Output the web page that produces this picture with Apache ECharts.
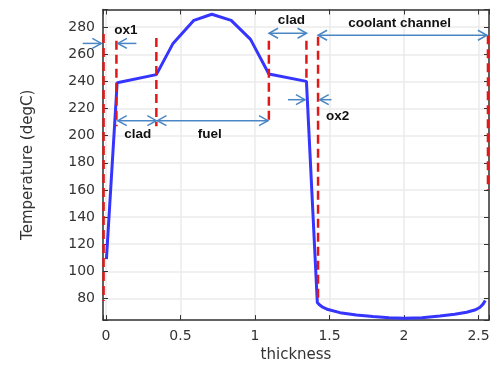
<!DOCTYPE html>
<html><head><meta charset="utf-8">
<script src="https://cdn.jsdelivr.net/npm/echarts@6/dist/echarts.min.js"></script>
<style>html,body{margin:0;padding:0;background:#fff}#c{width:500px;height:368px}</style>
</head><body><div id="c"></div>
<script>
// Temperature profile across the fuel element
const thickness   = [0.003, 0.075, 0.338, 0.45, 0.59, 0.71, 0.84, 0.97, 1.093, 1.345, 1.418, 1.43, 1.45, 1.49, 1.57, 1.68, 1.79, 1.9, 2.0, 2.12, 2.24, 2.34, 2.42, 2.48, 2.51, 2.53, 2.545];
const temperature = [109,   239,   245,   268,  285,  289.5, 285, 271,  245.5, 240,   77,    75.5, 73.8, 71.8, 69.5, 67.8, 66.6, 65.8, 65.4, 65.8, 67,   68.3, 69.8, 71.6, 73.5, 75.8, 78.5];

const xTicks = [0, 0.5, 1, 1.5, 2, 2.5];
const yTicks = [80, 100, 120, 140, 160, 180, 200, 220, 240, 260, 280];

// Region boundaries (red dashed lines)
const boundaryX      = [-0.016, 0.07, 0.338, 1.093, 1.345, 1.423, 2.563];
const boundaryTop    = [275, 270, 272, 270, 270, 273, 274];
const boundaryBottom = [78, 207, 207, 209, 240, 78, 160];

// Annotation arrows: from, to, level, double-headed
const arrowFrom   = [-0.156, 0.204, 0.079, 0.345, 1.094, 1.423, 1.221, 1.513];
const arrowTo     = [-0.031, 0.080, 0.338, 1.087, 1.346, 2.556, 1.335, 1.434];
const arrowY      = [268, 268, 211, 211, 275.5, 274, 226.5, 226.5];
const arrowDouble = [0, 0, 1, 1, 1, 1, 0, 0];

// Annotation labels
const labelText = ['ox1', 'clad', 'fuel', 'clad', 'coolant channel', 'ox2'];
const labelX    = [0.133, 0.213, 0.697, 1.244, 1.97, 1.555];
const labelY    = [277.8, 201, 201, 285, 283, 214];

const chart = echarts.init(document.getElementById('c'), null, {renderer: 'canvas'});
const axisColor = '#333';
const fontFam = '"DejaVu Sans", sans-serif';
const has = (arr, v) => arr.some(t => Math.abs(t - v) < 1e-6);

const xBase = {type: 'value', min: -0.02, max: 2.57, minInterval: 0.5, maxInterval: 0.5,
  axisLine: {show: true, onZero: false, lineStyle: {color: axisColor, width: 1.5}},
  axisTick: {show: true, inside: true, length: 5, lineStyle: {color: axisColor}}};
const yBase = {type: 'value', min: 64, max: 293, minInterval: 20, maxInterval: 20,
  axisLine: {show: true, onZero: false, lineStyle: {color: axisColor, width: 1.5}},
  axisTick: {show: true, inside: true, length: 5, lineStyle: {color: axisColor}}};

const series = [{
  type: 'line', name: 'T', data: thickness.map((x, i) => [x, temperature[i]]),
  showSymbol: false, symbol: 'none', lineStyle: {color: '#3535ff', width: 3}, z: 3,
  xAxisIndex: 0, yAxisIndex: 0
}];
boundaryX.forEach((x, i) => {
  series.push({type: 'line', data: [[x, boundaryTop[i]], [x, boundaryBottom[i]]],
    showSymbol: false, symbol: 'none', z: 4,
    lineStyle: {color: '#e01818', width: 2.5, type: [9, 5]}, xAxisIndex: 0, yAxisIndex: 0});
});
const arrowColor = '#4a86c4';
series.push({
  type: 'custom', clip: false, z: 5, xAxisIndex: 0, yAxisIndex: 0,
  data: arrowFrom.map((v, i) => [v, arrowTo[i], arrowY[i], arrowDouble[i]]),
  encode: {x: [0, 1], y: 2},
  renderItem(params, api) {
    const p1 = api.coord([api.value(0), api.value(2)]);
    const p2 = api.coord([api.value(1), api.value(2)]);
    const dir = Math.sign(p2[0] - p1[0]) || 1;
    const st = {stroke: arrowColor, lineWidth: 1.5, fill: null};
    const head = (tip, d) => ({type: 'polyline', shape: {points: [[tip[0] - d * 9, tip[1] - 5], [tip[0], tip[1]], [tip[0] - d * 9, tip[1] + 5]]}, style: st});
    const ch = [{type: 'line', shape: {x1: p1[0], y1: p1[1], x2: p2[0], y2: p2[1]}, style: st}, head(p2, dir)];
    if (api.value(3)) ch.push(head(p1, -dir));
    return {type: 'group', children: ch};
  }
});
series.push({
  type: 'custom', clip: false, z: 6, xAxisIndex: 0, yAxisIndex: 0,
  data: labelX.map((x, i) => [x, labelY[i], i]),
  encode: {x: 0, y: 1},
  renderItem(params, api) {
    const p = api.coord([api.value(0), api.value(1)]);
    return {type: 'text', x: p[0], y: p[1], style: {text: labelText[api.value(2)], fill: '#111',
      font: 'bold 13.5px "Liberation Sans", Arial, sans-serif', align: 'center', verticalAlign: 'middle'}};
  }
});

chart.setOption({
  animation: false,
  backgroundColor: '#fff',
  grid: {left: 103, right: 11, top: 9.5, bottom: 46, containLabel: false},
  xAxis: [
    Object.assign({}, xBase, {position: 'bottom', name: 'thickness', nameLocation: 'middle', nameGap: 27,
      nameTextStyle: {fontSize: 15, color: '#333', fontFamily: fontFam},
      axisLabel: {show: true, margin: 9, fontSize: 14, color: '#333', fontFamily: fontFam,
        formatter: v => has(xTicks, v) ? String(v) : ''},
      splitLine: {show: true, lineStyle: {color: '#ebebeb', width: 1.5}}}),
    Object.assign({}, xBase, {position: 'top', axisLabel: {show: false}, splitLine: {show: false}})
  ],
  yAxis: [
    Object.assign({}, yBase, {position: 'left', name: 'Temperature (degC)', nameLocation: 'middle', nameGap: 67,
      nameTextStyle: {fontSize: 15, color: '#333', fontFamily: fontFam},
      axisLabel: {show: true, margin: 8, fontSize: 14, color: '#333', fontFamily: fontFam,
        formatter: v => has(yTicks, v) ? String(v) : ''},
      splitLine: {show: true, lineStyle: {color: '#ebebeb', width: 1.5}}}),
    Object.assign({}, yBase, {position: 'right', axisLabel: {show: false}, splitLine: {show: false}})
  ],
  series: series
});
</script></body></html>
